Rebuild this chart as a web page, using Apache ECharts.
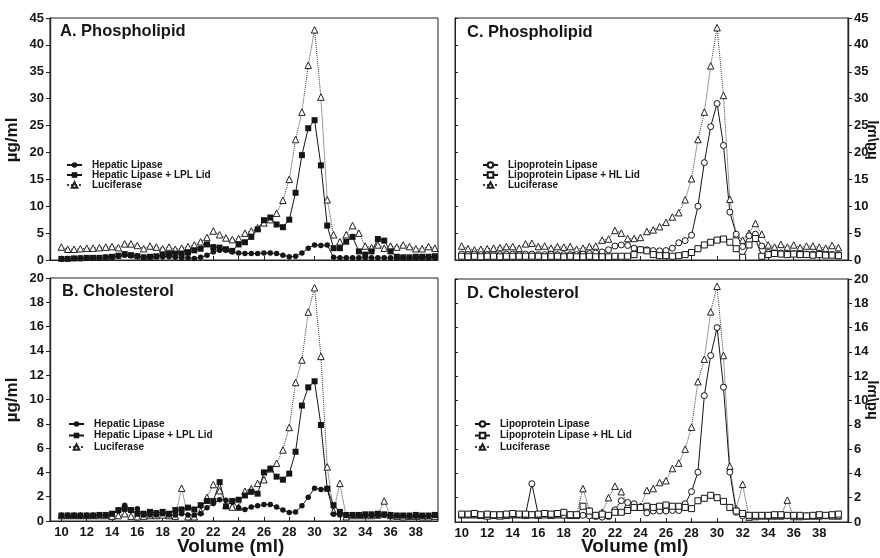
<!DOCTYPE html>
<html><head><meta charset="utf-8">
<script src="https://cdn.jsdelivr.net/npm/echarts@6/dist/echarts.min.js"></script>
<style>html,body{margin:0;padding:0;background:#fff}#c{width:880px;height:558px}</style>
</head><body><div id="c"></div>
<script>
// Elution volume of each fraction (ml)
const volume = [10,10.5,11,11.5,12,12.5,13,13.5,14,14.5,
  15,15.5,16,16.5,17,17.5,18,18.5,19,19.5,
  20,20.5,21,21.5,22,22.5,23,23.5,24,24.5,
  25,25.5,26,26.5,27,27.5,28,28.5,29,29.5,
  30,30.5,31,31.5,32,32.5,33,33.5,34,34.5,
  35,35.5,36,36.5,37,37.5,38,38.5,39,39.5];
const volumeTicks = [10,12,14,16,18,20,22,24,26,28,30,32,34,36,38];

// A. Phospholipid (µg/ml)
const phosHL = [0.3,0.3,0.3,0.4,0.4,0.4,0.4,0.5,0.6,0.7,
  0.9,0.8,0.8,0.5,0.5,0.6,0.6,0.6,0.5,0.4,
  0.4,0.3,0.5,0.9,1.5,1.8,1.8,1.5,1.3,1.2,
  1.2,1.2,1.3,1.3,1.2,0.9,0.6,0.7,1.3,2.2,
  2.8,2.7,2.8,0.5,0.4,0.4,0.4,0.4,0.4,0.4,
  0.4,0.4,0.4,0.4,0.4,0.4,0.4,0.4,0.4,0.4];
const phosHLLPL = [0.2,0.2,0.3,0.3,0.4,0.4,0.4,0.5,0.6,0.8,
  1.1,0.9,0.7,0.5,0.6,0.7,1.0,1.1,1.2,1.2,
  1.4,1.8,2.1,2.9,2.4,2.3,2.0,1.7,2.9,3.3,
  4.3,5.7,7.4,7.9,6.6,6.1,7.5,12.5,19.5,24.5,
  26.0,17.6,6.4,2.2,2.2,3.4,4.3,1.6,1.0,1.6,
  3.9,3.6,1.6,0.6,0.5,0.5,0.6,0.6,0.6,0.7];
const phosLucA = [2.4,2.0,2.0,2.1,2.2,2.2,2.3,2.4,2.5,2.3,
  3.0,3.0,2.7,2.1,2.6,2.4,2.1,2.4,2.0,2.2,
  2.5,2.8,3.4,4.2,5.4,4.7,4.1,3.8,4.0,5.0,
  5.4,6.0,6.9,7.5,8.7,11.1,15.0,22.4,27.5,36.2,
  42.8,30.3,11.2,4.7,3.4,4.7,6.4,5.0,2.6,2.3,
  2.8,2.2,2.6,2.4,2.8,2.5,2.1,2.1,2.5,2.2];

// B. Cholesterol (µg/ml)
const cholHL = [0.45,0.45,0.45,0.4,0.45,0.45,0.5,0.45,0.6,0.8,
  1.3,0.9,1.0,0.5,0.5,0.5,0.6,0.5,0.5,0.6,
  0.5,0.5,0.6,1.1,1.45,1.75,1.7,1.55,1.1,0.95,
  1.15,1.25,1.35,1.35,1.15,0.9,0.7,0.75,1.25,1.95,
  2.7,2.6,2.7,0.55,0.5,0.45,0.45,0.45,0.45,0.45,
  0.45,0.45,0.4,0.45,0.45,0.4,0.4,0.4,0.4,0.45];
const cholHLLPL = [0.45,0.45,0.45,0.45,0.45,0.45,0.5,0.5,0.6,0.9,
  1.0,0.9,0.6,0.6,0.75,0.65,0.75,0.6,0.9,0.95,
  1.1,0.95,1.3,1.65,1.65,3.2,1.2,1.65,1.75,2.1,
  2.4,2.25,4.0,4.3,3.65,3.4,3.9,5.7,9.5,11.0,
  11.5,7.9,2.65,1.3,0.75,0.5,0.5,0.5,0.55,0.55,
  0.6,0.55,0.5,0.45,0.45,0.45,0.5,0.45,0.45,0.5];
const cholLucB = [0.45,0.45,0.45,0.45,0.45,0.45,0.45,0.45,0.4,0.45,
  0.6,0.4,0.35,0.4,0.45,0.45,0.5,0.45,0.4,2.7,
  0.35,0.35,0.8,1.95,3.0,2.5,1.3,1.15,1.15,2.45,
  2.65,3.1,3.4,4.3,4.75,5.85,7.7,11.4,13.25,17.2,
  19.2,13.55,4.45,0.8,3.1,0.35,0.45,0.45,0.45,0.45,
  0.5,1.65,0.45,0.4,0.35,0.4,0.4,0.35,0.35,0.4];

// C. Phospholipid (µg/ml)
const phosLPL = [1.1,1.0,1.1,1.0,1.0,1.0,1.0,1.1,1.1,1.0,
  1.1,1.1,1.0,1.0,1.1,1.0,1.0,1.0,1.0,1.1,
  1.2,1.3,1.5,1.9,2.6,2.8,2.7,2.2,1.9,1.9,
  1.75,1.7,1.75,2.2,3.2,3.6,4.6,10.0,18.1,24.8,
  29.1,21.3,8.9,4.8,2.5,4.5,4.8,2.6,1.4,1.3,
  1.3,1.2,1.2,1.2,1.1,1.1,1.1,1.0,1.0,1.0];
const phosLPLHL = [0.7,0.6,0.7,0.6,0.7,0.7,0.6,0.7,0.7,0.7,
  0.7,0.7,0.7,0.6,0.7,0.7,0.6,0.7,0.6,0.6,
  0.7,0.6,0.6,0.6,0.7,0.7,0.7,1.0,1.9,1.7,
  1.0,0.8,0.8,0.7,0.8,1.0,1.4,2.1,2.8,3.3,
  3.7,3.9,3.3,2.1,0.5,2.8,4.0,0.7,1.0,1.2,
  1.1,1.0,1.1,1.0,1.0,0.9,1.0,0.9,0.9,0.8];
const phosLucC = [2.6,2.1,1.9,2.0,2.1,2.2,2.3,2.5,2.5,2.2,
  3.0,3.1,2.5,2.6,2.2,2.5,2.4,2.5,2.0,2.2,
  2.5,2.6,3.7,3.9,5.5,5.0,4.0,4.0,4.2,5.3,
  5.6,6.2,7.0,8.0,8.8,11.2,15.1,22.4,27.5,36.1,
  43.2,30.6,11.3,4.7,3.7,5.0,6.8,4.8,2.8,2.4,
  2.9,2.4,2.8,2.3,2.6,2.6,2.4,2.2,2.7,2.3];

// D. Cholesterol (µg/ml)
const cholLPL = [0.6,0.6,0.6,0.55,0.6,0.55,0.6,0.55,0.6,0.6,
  0.6,3.15,0.6,0.65,0.6,0.6,0.55,0.6,0.55,0.55,
  0.5,0.45,0.4,0.45,1.0,1.75,1.6,1.5,1.2,0.75,
  0.9,0.9,0.9,0.95,0.95,1.5,2.5,4.1,10.4,13.7,
  16.0,11.1,4.1,0.8,0.5,0.5,0.5,0.55,0.5,0.5,
  0.5,0.5,0.5,0.5,0.5,0.5,0.5,0.5,0.55,0.5];
const cholLPLHL = [0.65,0.65,0.7,0.6,0.65,0.6,0.6,0.65,0.7,0.65,
  0.65,0.6,0.65,0.7,0.65,0.7,0.8,0.6,0.6,1.3,
  0.9,0.55,0.65,0.55,0.8,0.8,0.95,1.2,1.2,1.3,
  1.2,1.3,1.4,1.3,1.3,1.2,1.1,1.75,1.95,2.2,
  2.0,1.7,1.2,0.9,0.7,0.55,0.55,0.55,0.55,0.6,
  0.6,0.55,0.55,0.55,0.5,0.55,0.6,0.55,0.6,0.65];
const cholLucD = [0.6,0.6,0.6,0.55,0.5,0.55,0.5,0.55,0.6,0.6,
  0.55,0.6,0.55,0.6,0.55,0.6,0.6,0.55,0.55,2.75,
  0.95,0.55,0.8,2.0,2.95,2.5,1.45,1.4,1.3,2.6,
  2.75,3.25,3.4,4.4,4.85,6.0,7.8,11.55,13.4,17.3,
  19.4,13.7,4.6,1.1,3.1,0.4,0.45,0.5,0.5,0.5,
  0.5,1.8,0.45,0.45,0.5,0.5,0.5,0.55,0.5,0.5];

const F = '"Liberation Sans", Arial, Helvetica, sans-serif';
const INK = '#151515';
const chart = echarts.init(document.getElementById('c'), null, {renderer: 'canvas'});

const gridDefs = [
  {left: 50, top: 18, width: 388, height: 242},
  {left: 50, top: 278, width: 388, height: 243},
  {left: 455, top: 18, width: 393, height: 242},
  {left: 455, top: 279, width: 393, height: 243}
].map(g => Object.assign(g, {show: true, borderColor: '#222', borderWidth: 1, backgroundColor: 'transparent', containLabel: false}));

function mkX(i, min, max, labels) {
  return {type: 'value', gridIndex: i, min: min, max: max,
    axisLine: {show: true, onZero: false, lineStyle: {color: '#222', width: 1}},
    axisTick: {show: true, inside: true, length: 4, customValues: volumeTicks, lineStyle: {color: '#222'}},
    axisLabel: {show: labels, customValues: volumeTicks, fontSize: 13, fontWeight: 'bold', fontFamily: F, color: INK, margin: 5},
    splitLine: {show: false}};
}
function mkY(i, max, interval, pos, labels) {
  return {type: 'value', gridIndex: i, min: 0, max: max, interval: interval, position: pos,
    axisLine: {show: true, onZero: false, lineStyle: {color: '#222', width: labels ? 1.4 : 1}},
    axisTick: {show: true, inside: !labels, length: labels ? 4 : 3, lineStyle: {color: '#222'}},
    axisLabel: {show: labels, fontSize: 13, fontWeight: 'bold', fontFamily: F, color: INK, margin: 6},
    splitLine: {show: false}};
}

const xAxes = [mkX(0, 9.1, 39.75, false), mkX(1, 9.1, 39.75, true), mkX(2, 9.48, 40.25, false), mkX(3, 9.48, 40.25, true)];
const yAxes = [mkY(0, 45, 5, 'left', true), mkY(1, 20, 2, 'left', true), mkY(2, 45, 5, 'right', true), mkY(3, 20, 2, 'right', true),
  mkY(2, 45, 5, 'left', false), mkY(3, 20, 2, 'left', false)];

const solidLine = {color: INK, width: 1};
const styles = {
  filledCircle: {symbol: 'circle', symbolSize: 5.5, lineStyle: solidLine, itemStyle: {color: INK}},
  filledSquare: {symbol: 'rect', symbolSize: 6, lineStyle: solidLine, itemStyle: {color: INK}},
  openTriangle: {symbol: 'triangle', symbolSize: 6.5, lineStyle: {color: '#3a3a3a', width: 1, type: 'dotted'}, itemStyle: {color: '#fff', borderColor: '#222', borderWidth: 1}},
  openCircle: {symbol: 'circle', symbolSize: 6, lineStyle: solidLine, itemStyle: {color: '#fff', borderColor: INK, borderWidth: 1}},
  openSquare: {symbol: 'rect', symbolSize: 6, lineStyle: solidLine, itemStyle: {color: '#fff', borderColor: INK, borderWidth: 1}}
};
function ser(name, arr, idx, st) {
  return Object.assign({type: 'line', name: name, xAxisIndex: idx, yAxisIndex: idx, animation: false,
    data: volume.map((v, k) => [v, arr[k]])}, JSON.parse(JSON.stringify(styles[st])));
}
const series = [
  ser('Luciferase', phosLucA, 0, 'openTriangle'),
  ser('Hepatic Lipase', phosHL, 0, 'filledCircle'),
  ser('Hepatic Lipase + LPL Lid', phosHLLPL, 0, 'filledSquare'),
  ser('Luciferase', cholLucB, 1, 'openTriangle'),
  ser('Hepatic Lipase', cholHL, 1, 'filledCircle'),
  ser('Hepatic Lipase + LPL Lid', cholHLLPL, 1, 'filledSquare'),
  ser('Luciferase', phosLucC, 2, 'openTriangle'),
  ser('Lipoprotein Lipase', phosLPL, 2, 'openCircle'),
  ser('Lipoprotein Lipase + HL Lid', phosLPLHL, 2, 'openSquare'),
  ser('Luciferase', cholLucD, 3, 'openTriangle'),
  ser('Lipoprotein Lipase', cholLPL, 3, 'openCircle'),
  ser('Lipoprotein Lipase + HL Lid', cholLPLHL, 3, 'openSquare')
];

function mkLegend(left, top, gap, names) {
  return {left: left, top: top, orient: 'vertical', itemWidth: 15, itemHeight: 7, itemGap: gap, padding: 0,
    selectedMode: false, data: names,
    textStyle: {fontSize: 10, fontWeight: 'bold', fontFamily: F, color: INK, padding: [0, 0, 0, 5]}};
}
const hlNames = ['Hepatic Lipase', 'Hepatic Lipase + LPL Lid', 'Luciferase'];
const lplNames = ['Lipoprotein Lipase', 'Lipoprotein Lipase + HL Lid', 'Luciferase'];

const titleStyle = {fontSize: 16.5, fontWeight: 'bold', fontFamily: F, color: INK};
const axisTitleStyle = {fontSize: 19, fontWeight: 'bold', fontFamily: F, color: INK};
const unitFont = 'bold 17px ' + F;
const unitFontR = 'bold 15px ' + F;

chart.setOption({
  animation: false,
  backgroundColor: '#fff',
  grid: gridDefs,
  xAxis: xAxes,
  yAxis: yAxes,
  series: series,
  legend: [mkLegend(66, 160, 0, hlNames), mkLegend(68, 419, 1.5, hlNames), mkLegend(482, 160, 0, lplNames), mkLegend(474, 419, 1.5, lplNames)],
  title: [
    {text: 'A. Phospholipid', left: 60, top: 23, padding: 0, textStyle: titleStyle},
    {text: 'B. Cholesterol', left: 62, top: 283, padding: 0, textStyle: titleStyle},
    {text: 'C. Phospholipid', left: 467, top: 24, padding: 0, textStyle: titleStyle},
    {text: 'D. Cholesterol', left: 467, top: 285, padding: 0, textStyle: titleStyle},
    {text: 'Volume (ml)', left: 177, top: 537, padding: 0, textStyle: axisTitleStyle},
    {text: 'Volume (ml)', left: 581, top: 537, padding: 0, textStyle: axisTitleStyle}
  ],
  graphic: [
    {type: 'text', x: 12, y: 140, rotation: Math.PI / 2, style: {text: 'µg/ml', font: unitFont, fill: INK, align: 'center', verticalAlign: 'middle', textAlign: 'center', textVerticalAlign: 'middle'}},
    {type: 'text', x: 12, y: 400, rotation: Math.PI / 2, style: {text: 'µg/ml', font: unitFont, fill: INK, align: 'center', verticalAlign: 'middle', textAlign: 'center', textVerticalAlign: 'middle'}},
    {type: 'text', x: 872, y: 140, rotation: Math.PI / 2, scaleY: -1, style: {text: 'µg/ml', font: unitFontR, fill: INK, align: 'center', verticalAlign: 'middle', textAlign: 'center', textVerticalAlign: 'middle'}},
    {type: 'text', x: 872, y: 400, rotation: Math.PI / 2, scaleY: -1, style: {text: 'µg/ml', font: unitFontR, fill: INK, align: 'center', verticalAlign: 'middle', textAlign: 'center', textVerticalAlign: 'middle'}}
  ]
});
</script>
</body></html>
